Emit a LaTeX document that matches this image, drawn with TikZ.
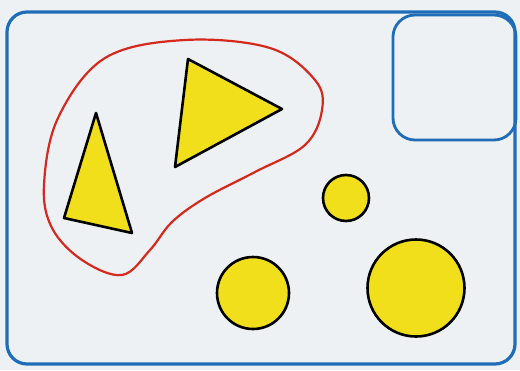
\documentclass[tikz,border=0pt]{standalone}
\begin{document}
\begin{tikzpicture}[x=1pt,y=-1pt,
  frameline/.style={draw=framblue,line width=3.2pt,rounded corners=20pt},
  blob/.style={draw=blobred,line width=2.2pt},
  shapefill/.style={fill=shapeyellow,draw=black,line width=2.6pt,line join=round}]
\definecolor{framblue}{HTML}{1F6DB8}
\definecolor{blobred}{HTML}{D42A1E}
\definecolor{shapeyellow}{HTML}{F2DF1C}
\definecolor{paper}{HTML}{EEF1F3}
\useasboundingbox (0,0) rectangle (520,370);
\fill[paper] (0,0) rectangle (520,370);
% outer frame
\draw[frameline] (7,12) rectangle (515,364);
% small top-right box
\draw[frameline,line width=2.8pt,rounded corners=22pt] (393,15) rectangle (516,140);
% red enclosing curve
\draw[blob] plot[smooth cycle,tension=0.6] coordinates {
  (44,185) (58,118) (105,58) (185,40) (270,48) (315,80) (322,110)
  (305,145) (255,172) (205,198) (172,222) (150,250) (122,275)
  (82,260) (52,228)};
% triangles
\draw[shapefill] (96,113) -- (64,218) -- (132,233) -- cycle;
\draw[shapefill] (188,59) -- (282,109) -- (175,167) -- cycle;
% circles
\draw[shapefill] (346,198) circle (23);
\draw[shapefill] (253,293) circle (36);
\draw[shapefill] (416,288) circle (48.5);
\end{tikzpicture}
\end{document}
